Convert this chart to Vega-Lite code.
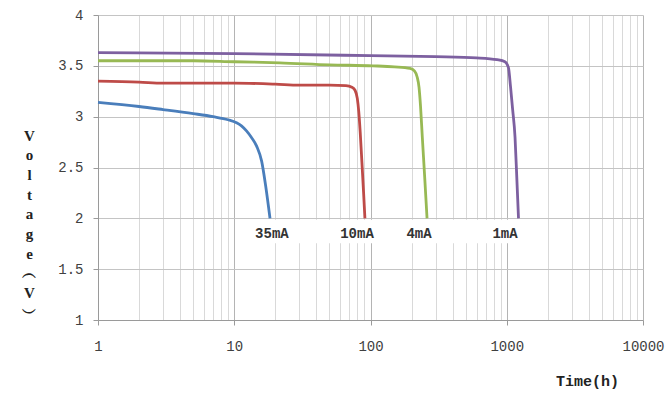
{
  "$schema": "https://vega.github.io/schema/vega-lite/v6.json",
  "width": 545,
  "height": 305,
  "autosize": {"type": "none"},
  "padding": {"left": 98, "top": 15, "right": 29, "bottom": 74},
  "background": "white",
  "config": {"view": {"stroke": null}},
  "datasets": {
    "curves": [
      {"series": "35mA", "time": 1, "voltage": 3.14},
      {"series": "35mA", "time": 2, "voltage": 3.10},
      {"series": "35mA", "time": 3, "voltage": 3.07},
      {"series": "35mA", "time": 5, "voltage": 3.03},
      {"series": "35mA", "time": 7, "voltage": 3.00},
      {"series": "35mA", "time": 9, "voltage": 2.97},
      {"series": "35mA", "time": 10.4, "voltage": 2.94},
      {"series": "35mA", "time": 11.3, "voltage": 2.91},
      {"series": "35mA", "time": 12.3, "voltage": 2.86},
      {"series": "35mA", "time": 13.3, "voltage": 2.80},
      {"series": "35mA", "time": 14.6, "voltage": 2.71},
      {"series": "35mA", "time": 15.9, "voltage": 2.56},
      {"series": "35mA", "time": 17, "voltage": 2.32},
      {"series": "35mA", "time": 18.3, "voltage": 2.0},
      {"series": "10mA", "time": 1, "voltage": 3.35},
      {"series": "10mA", "time": 2, "voltage": 3.34},
      {"series": "10mA", "time": 3, "voltage": 3.33},
      {"series": "10mA", "time": 10, "voltage": 3.33},
      {"series": "10mA", "time": 20, "voltage": 3.32},
      {"series": "10mA", "time": 30, "voltage": 3.31},
      {"series": "10mA", "time": 50, "voltage": 3.31},
      {"series": "10mA", "time": 66, "voltage": 3.305},
      {"series": "10mA", "time": 73, "voltage": 3.29},
      {"series": "10mA", "time": 77, "voltage": 3.26},
      {"series": "10mA", "time": 80, "voltage": 3.18},
      {"series": "10mA", "time": 82, "voltage": 3.05},
      {"series": "10mA", "time": 84, "voltage": 2.85},
      {"series": "10mA", "time": 86.5, "voltage": 2.55},
      {"series": "10mA", "time": 89, "voltage": 2.25},
      {"series": "10mA", "time": 91, "voltage": 2.0},
      {"series": "4mA", "time": 1, "voltage": 3.55},
      {"series": "4mA", "time": 5, "voltage": 3.55},
      {"series": "4mA", "time": 10, "voltage": 3.54},
      {"series": "4mA", "time": 21.6, "voltage": 3.53},
      {"series": "4mA", "time": 50, "voltage": 3.51},
      {"series": "4mA", "time": 104, "voltage": 3.50},
      {"series": "4mA", "time": 150, "voltage": 3.49},
      {"series": "4mA", "time": 195, "voltage": 3.475},
      {"series": "4mA", "time": 210, "voltage": 3.45},
      {"series": "4mA", "time": 220, "voltage": 3.39},
      {"series": "4mA", "time": 227, "voltage": 3.29},
      {"series": "4mA", "time": 233, "voltage": 3.1},
      {"series": "4mA", "time": 240, "voltage": 2.8},
      {"series": "4mA", "time": 250, "voltage": 2.4},
      {"series": "4mA", "time": 260, "voltage": 2.0},
      {"series": "1mA", "time": 1, "voltage": 3.63},
      {"series": "1mA", "time": 10, "voltage": 3.62},
      {"series": "1mA", "time": 100, "voltage": 3.60},
      {"series": "1mA", "time": 300, "voltage": 3.59},
      {"series": "1mA", "time": 600, "voltage": 3.578},
      {"series": "1mA", "time": 850, "voltage": 3.56},
      {"series": "1mA", "time": 970, "voltage": 3.54},
      {"series": "1mA", "time": 1030, "voltage": 3.48},
      {"series": "1mA", "time": 1065, "voltage": 3.3},
      {"series": "1mA", "time": 1105, "voltage": 3.07},
      {"series": "1mA", "time": 1150, "voltage": 2.8},
      {"series": "1mA", "time": 1185, "voltage": 2.4},
      {"series": "1mA", "time": 1220, "voltage": 2.0}
    ],
    "labels": [
      {"series": "35mA", "time": 18.9, "voltage": 1.85},
      {"series": "10mA", "time": 79.6, "voltage": 1.85},
      {"series": "4mA", "time": 227, "voltage": 1.85},
      {"series": "1mA", "time": 971, "voltage": 1.85}
    ],
    "box": [
      {"t1": 10.4, "t2": 1320, "v1": 1.755, "v2": 1.985}
    ]
  },
  "layer": [
    {
      "data": {"name": "box"},
      "mark": {"type": "rect", "color": "white"},
      "encoding": {
        "x": {
          "field": "t1", "type": "quantitative",
          "scale": {"type": "log", "domain": [1, 10000], "nice": false},
          "axis": {
            "title": "Time(h)",
            "values": [1,2,3,4,5,6,7,8,9,10,20,30,40,50,60,70,80,90,100,200,300,400,500,600,700,800,900,1000,2000,3000,4000,5000,6000,7000,8000,9000,10000],
            "labelExpr": "indexof([1,10,100,1000,10000], datum.value) >= 0 ? datum.value + '' : ''",
            "grid": true,
            "gridColor": {"condition": {"test": "indexof([1,10,100,1000,10000], datum.value) >= 0", "value": "#b4b4b4"}, "value": "#d9d9d9"},
            "gridWidth": 1,
            "tickOpacity": {"condition": {"test": "indexof([1,10,100,1000,10000], datum.value) >= 0", "value": 1}, "value": 0},
            "tickColor": "#9a9a9a",
            "tickSize": 5,
            "domainColor": "#9a9a9a",
            "labelFont": "Liberation Mono",
            "labelFontSize": 14,
            "labelColor": "#404040",
            "labelPadding": 14,
            "labelFlush": false,
            "labelOverlap": false,
            "titleFont": "Liberation Mono",
            "titleFontSize": 15,
            "titleFontWeight": "bold",
            "titleColor": "#222222",
            "titleX": 489,
            "titleY": 60,
            "titleAlign": "center",
            "titleBaseline": "middle",
            "titleAnchor": null
          }
        },
        "x2": {"field": "t2"},
        "y": {
          "field": "v1", "type": "quantitative",
          "scale": {"domain": [1, 4], "nice": false, "zero": false},
          "axis": {
            "title": ["V","o","l","t","a","g","e","︵","V","︶"],
            "values": [1, 1.5, 2, 2.5, 3, 3.5, 4],
            "format": "~g",
            "grid": true,
            "gridColor": "#c4c4c4",
            "tickColor": "#9a9a9a",
            "tickSize": 5,
            "domainColor": "#9a9a9a",
            "labelFont": "Liberation Mono",
            "labelFontSize": 14,
            "labelColor": "#404040",
            "labelPadding": 10,
            "labelFlush": false,
            "titleFont": "Liberation Serif",
            "titleFontSize": 15,
            "titleFontWeight": "bold",
            "titleColor": "#222222",
            "titleAngle": 0,
            "titleLineHeight": 19.7,
            "titleX": -69,
            "titleY": 120,
            "titleAlign": "center",
            "titleBaseline": "middle",
            "titleAnchor": null
          }
        },
        "y2": {"field": "v2"}
      }
    },
    {
      "data": {"name": "curves"},
      "mark": {"type": "line", "strokeWidth": 2.8, "interpolate": "monotone"},
      "encoding": {
        "x": {"field": "time", "type": "quantitative"},
        "y": {"field": "voltage", "type": "quantitative"},
        "color": {
          "field": "series", "type": "nominal",
          "scale": {"domain": ["35mA", "10mA", "4mA", "1mA"], "range": ["#4A7EBB", "#BE4B48", "#98B954", "#7D60A0"]},
          "legend": null
        }
      }
    },
    {
      "data": {"name": "labels"},
      "mark": {"type": "text", "font": "Liberation Mono", "fontSize": 14, "fontWeight": "bold", "color": "#333333", "baseline": "middle", "align": "center"},
      "encoding": {
        "x": {"field": "time", "type": "quantitative"},
        "y": {"field": "voltage", "type": "quantitative"},
        "text": {"field": "series"}
      }
    }
  ]
}
